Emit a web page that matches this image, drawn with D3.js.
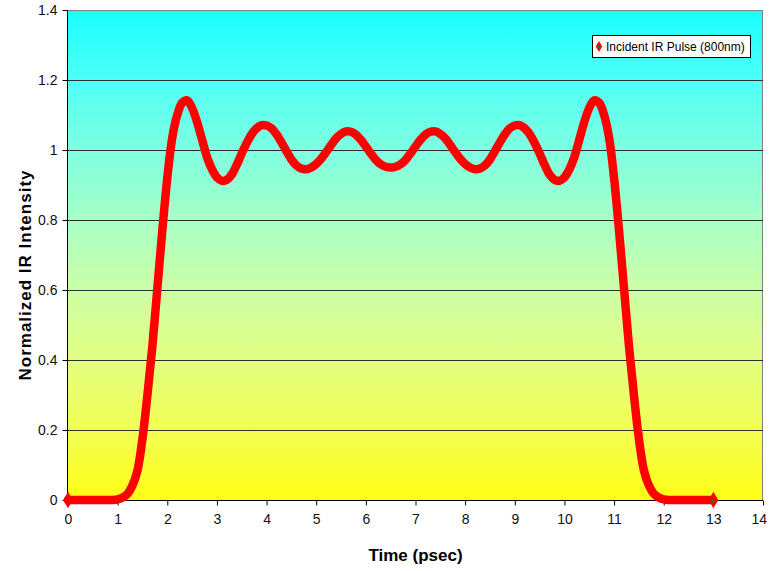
<!DOCTYPE html>
<html>
<head>
<meta charset="utf-8">
<script src="https://cdn.jsdelivr.net/npm/d3@7"></script>
<style>
  html, body { margin: 0; padding: 0; background: #ffffff; }
  svg { display: block; font-family: Arial, "Liberation Sans", sans-serif; }
</style>
</head>
<body>
<svg id="chart" width="769" height="571"></svg>
<script>
// Sample times (psec), 0.0 .. 13.0 in 0.1 steps
const timeStart = 0, timeStep = 0.1;
// Normalized IR intensity at each sample time
const intensity = [
  0, 0, 0, 0, 0, 0, 0, 0, 0, 0,
  0.002, 0.007, 0.018, 0.042, 0.085, 0.175, 0.30, 0.44, 0.605, 0.77,
  0.92, 1.035, 1.10, 1.135, 1.142, 1.12, 1.08, 1.03, 0.98, 0.945,
  0.922, 0.912, 0.915, 0.93, 0.958, 0.99, 1.02, 1.045, 1.062, 1.071,
  1.070, 1.062, 1.045, 1.022, 0.997, 0.973, 0.956, 0.947, 0.945, 0.950,
  0.960, 0.975, 0.994, 1.014, 1.033, 1.046, 1.053, 1.052, 1.044, 1.029,
  1.010, 0.990, 0.972, 0.959, 0.952, 0.950, 0.952, 0.959, 0.972, 0.990,
  1.010, 1.029, 1.044, 1.052, 1.053, 1.046, 1.033, 1.014, 0.994, 0.975,
  0.960, 0.950, 0.945, 0.947, 0.956, 0.973, 0.997, 1.022, 1.045, 1.062,
  1.070, 1.071, 1.062, 1.045, 1.02, 0.99, 0.958, 0.93, 0.915, 0.912,
  0.922, 0.945, 0.98, 1.03, 1.08, 1.12, 1.142, 1.135, 1.10, 1.035,
  0.92, 0.77, 0.605, 0.44, 0.30, 0.175, 0.085, 0.042, 0.018, 0.007,
  0.002, 0, 0, 0, 0, 0, 0, 0, 0, 0,
  0
];
const xTicks = [0, 1, 2, 3, 4, 5, 6, 7, 8, 9, 10, 11, 12, 13, 14];
const yTicks = [0, 0.2, 0.4, 0.6, 0.8, 1, 1.2, 1.4];
const seriesName = "Incident IR Pulse (800nm)";
const xTitle = "Time (psec)";
const yTitle = "Normalized IR Intensity";

const data = intensity.map((v, i) => ({ t: +(timeStart + i * timeStep).toFixed(1), v }));

const svg = d3.select("#chart");
const plot = { left: 68, right: 763, top: 10, bottom: 500 };

const x = d3.scaleLinear().domain([0, 14]).range([plot.left, plot.right]);
const y = d3.scaleLinear().domain([0, 1.4]).range([plot.bottom, plot.top]);

// Background gradient: cyan at top fading to yellow at the bottom
const defs = svg.append("defs");
const grad = defs.append("linearGradient")
  .attr("id", "bg").attr("x1", 0).attr("y1", 0).attr("x2", 0).attr("y2", 1);
[
  [0, "#18ffff"], [0.14, "#4efff6"], [0.29, "#80ffe0"], [0.43, "#a8ffc6"],
  [0.57, "#ccffa6"], [0.71, "#e2ff82"], [0.86, "#f2ff52"], [1, "#ffff14"]
].forEach(([o, c]) => grad.append("stop").attr("offset", o).attr("stop-color", c));

svg.append("rect")
  .attr("x", plot.left).attr("y", plot.top)
  .attr("width", plot.right - plot.left).attr("height", plot.bottom - plot.top)
  .attr("fill", "url(#bg)");

// Plot-area border (top / right) in gray
svg.append("path")
  .attr("d", `M${plot.left},${plot.top + 0.5}H${plot.right - 0.5}V${plot.bottom}`)
  .attr("fill", "none").attr("stroke", "#808080").attr("stroke-width", 1);

// Horizontal gridlines
svg.append("g").selectAll("line")
  .data(yTicks.filter(d => d > 0 && d < 1.4))
  .join("line")
  .attr("x1", plot.left).attr("x2", plot.right)
  .attr("y1", d => Math.round(y(d)) + 0.5).attr("y2", d => Math.round(y(d)) + 0.5)
  .attr("stroke", "#2e2e2e").attr("stroke-width", 1);

// Axes
const xAxis = d3.axisBottom(x).tickValues(xTicks).tickSize(5).tickPadding(9)
  .tickFormat(d3.format("d"));
const yAxis = d3.axisLeft(y).tickValues(yTicks).tickSize(5).tickPadding(5)
  .tickFormat(d => d === 0 ? "0" : d === 1 ? "1" : d3.format(".1f")(d));

const gx = svg.append("g").attr("transform", `translate(0,${plot.bottom + 0.5})`).call(xAxis);
const gy = svg.append("g").attr("transform", `translate(${plot.left - 0.5},0)`).call(yAxis);
[gx, gy].forEach(g => {
  g.select(".domain").attr("stroke", "#000");
  g.selectAll(".tick line").attr("stroke", "#000");
  g.selectAll("text").attr("font-size", "14px").attr("fill", "#111")
    .attr("font-family", "Arial, 'Liberation Sans', sans-serif");
});
gx.select(".domain").attr("d", `M${plot.left},0H${plot.right}`);
gy.select(".domain").attr("d", `M0,${plot.top}V${plot.bottom}`);
// keep the last x label inside the page
gx.selectAll(".tick").filter(d => d === 14).select("text")
  .attr("text-anchor", "end").attr("dx", "0.25em");

// Axis titles
svg.append("text")
  .attr("x", (plot.left + plot.right) / 2).attr("y", 561)
  .attr("text-anchor", "middle").attr("font-weight", "bold").attr("font-size", "17px")
  .attr("fill", "#000").text(xTitle);
svg.append("text")
  .attr("transform", `translate(31,${(plot.top + plot.bottom) / 2 + 20}) rotate(-90)`)
  .attr("text-anchor", "middle").attr("font-weight", "bold").attr("font-size", "17px")
  .attr("letter-spacing", "1px").attr("fill", "#000").text(yTitle);

// Pulse curve
const line = d3.line().x(d => x(d.t)).y(d => y(d.v)).curve(d3.curveCatmullRom.alpha(0.5));
svg.append("path")
  .datum(data)
  .attr("d", line)
  .attr("fill", "none").attr("stroke", "#ff0000")
  .attr("stroke-width", 8.5).attr("stroke-linejoin", "round").attr("stroke-linecap", "round");

// End markers (red diamond with green centre)
const diamond = d3.symbol().type(d3.symbolDiamond);
const ends = [data[0], data[data.length - 1]];
svg.append("g").selectAll("path.m")
  .data(ends).join("path")
  .attr("transform", d => `translate(${x(d.t)},${y(d.v)})`)
  .attr("d", diamond.size(80)())
  .attr("fill", "#ff0000");
svg.append("g").selectAll("circle")
  .data([data[data.length - 1]]).join("circle")
  .attr("cx", d => x(d.t) - 1).attr("cy", d => y(d.v) + 1).attr("r", 1.8)
  .attr("fill", "#108010");

// Legend
const lg = svg.append("g").attr("transform", "translate(592,35)");
lg.append("rect").attr("x", 0.5).attr("y", 0.5).attr("width", 158).attr("height", 22)
  .attr("fill", "#ffffff").attr("stroke", "#000").attr("stroke-width", 1);
lg.append("path").attr("transform", "translate(7,11.5)")
  .attr("d", d3.symbol().type(d3.symbolDiamond).size(36)())
  .attr("fill", "#ff0000");
lg.append("circle").attr("cx", 7).attr("cy", 11.5).attr("r", 1.5).attr("fill", "#108010");
lg.append("text").attr("x", 14).attr("y", 15.5)
  .attr("font-size", "12px").attr("fill", "#000").text(seriesName);
</script>
</body>
</html>
